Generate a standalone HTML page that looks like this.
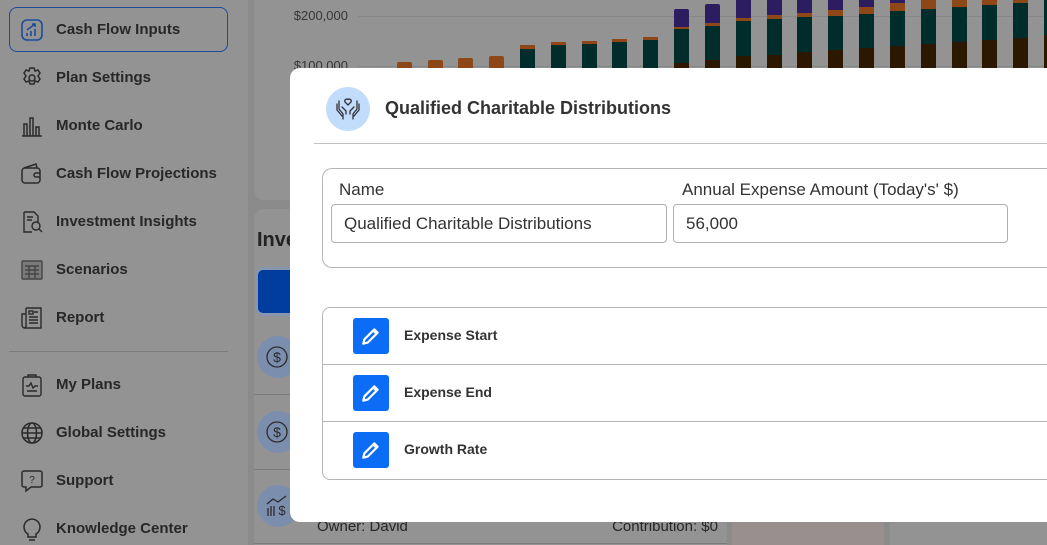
<!DOCTYPE html>
<html><head><meta charset="utf-8"><style>
*{margin:0;padding:0;box-sizing:border-box}
html,body{width:1047px;height:545px;overflow:hidden}
body{position:relative;background:#8b8b8b;font-family:"Liberation Sans",sans-serif;color:#272727}
.a{position:absolute}
.sb{left:0;top:0;width:248px;height:545px;background:#939393}
.item{position:absolute;left:56px;height:24px;line-height:24px;font-size:15px;font-weight:bold;color:#272727;white-space:nowrap}
.ic{position:absolute;left:20px;width:24px;height:24px}
.bar{position:absolute;width:15px}
.o{background:#8e4817}.g{background:#002c2b}.b{background:#2c1700}.p{background:#2b1d5f}
.lbl{font-size:17px;color:#333;white-space:nowrap}
.inp{position:absolute;border:1px solid #b0b0b0;border-radius:4px;height:39px;line-height:37px;font-size:17px;color:#333;background:#fff;white-space:nowrap;overflow:hidden}
.btn{position:absolute;left:353px;width:36px;height:36px;background:#0b6cf6;border-radius:3px}
.rl{position:absolute;left:404px;height:20px;line-height:20px;font-size:14px;font-weight:bold;color:#333}
.circ{position:absolute;left:257px;width:42px;height:42px;border-radius:50%;background:#7c8eae}
</style></head><body>

<!-- sidebar -->
<div class="a sb"></div>
<div class="a" style="left:9px;top:7px;width:219px;height:45px;border:1px solid #1d4b9c;border-radius:8px"></div>
<svg class="ic" style="top:18px" viewBox="0 0 24 24" fill="none" stroke="#1d4b9c" stroke-width="1.6"><rect x="2" y="2" width="20" height="20" rx="5"/><path d="M7 18v-3M11 18v-5M15 18v-7M7 12l8-6M12 6h3v3"/></svg>
<div class="item" style="top:18px">Cash Flow Inputs</div>

<svg class="ic" style="top:66px" viewBox="0 0 24 24" fill="none" stroke="#2a2a2a" stroke-width="1.5"><circle cx="12" cy="12" r="3"/><path d="M10 2h4l1 3 3-1 2 3-2 3 2 3-2 3-3-1-1 3h-4l-1-3-3 1-2-3 2-3-2-3 2-3 3 1z"/></svg>
<div class="item" style="top:66px">Plan Settings</div>

<svg class="ic" style="top:114px" viewBox="0 0 24 24" fill="none" stroke="#2a2a2a" stroke-width="1.5"><path d="M2 22h20M4 22V10h3v12M10 22V4h3v18M16 22v-9h3v9"/></svg>
<div class="item" style="top:114px">Monte Carlo</div>

<svg class="ic" style="top:162px" viewBox="0 0 24 24" fill="none" stroke="#2a2a2a" stroke-width="1.5"><rect x="2" y="6" width="18" height="15" rx="3"/><path d="M4 6l12-4 1 4M20 11h-4a2 2 0 000 4h4"/></svg>
<div class="item" style="top:162px">Cash Flow Projections</div>

<svg class="ic" style="top:210px" viewBox="0 0 24 24" fill="none" stroke="#2a2a2a" stroke-width="1.4"><path d="M4 2h10l4 4v6M4 2v20h8"/><circle cx="16" cy="16" r="4"/><path d="M19 19l3 3M7 7h6M7 10h5"/></svg>
<div class="item" style="top:210px">Investment Insights</div>

<svg class="ic" style="top:258px" viewBox="0 0 24 24" fill="none" stroke="#444" stroke-width="1.4"><rect x="2" y="3" width="20" height="18" rx="1" fill="#7a7a7a"/><path d="M5 8h14M5 12h14M5 16h14M9 8v12M15 8v12"/></svg>
<div class="item" style="top:258px">Scenarios</div>

<svg class="ic" style="top:306px" viewBox="0 0 24 24" fill="none" stroke="#2a2a2a" stroke-width="1.4"><path d="M6 2h15v20H5a3 3 0 01-3-3V8h4"/><path d="M6 2v17a3 3 0 01-1 3"/><rect x="9" y="5" width="4" height="3"/><path d="M14 6h4M9 11h9M9 14h9M9 17h9"/></svg>
<div class="item" style="top:306px">Report</div>

<div class="a" style="left:9px;top:351px;width:219px;height:1px;background:#7c7c7c"></div>

<svg class="ic" style="top:373px" viewBox="0 0 24 24" fill="none" stroke="#2a2a2a" stroke-width="1.4"><rect x="3" y="4" width="18" height="19" rx="2"/><path d="M8 4V2h8v2M6 13h3l2-3 2 5 2-2h3M7 18h10"/></svg>
<div class="item" style="top:373px">My Plans</div>

<svg class="ic" style="top:421px" viewBox="0 0 24 24" fill="none" stroke="#2a2a2a" stroke-width="1.5"><circle cx="12" cy="12" r="10"/><ellipse cx="12" cy="12" rx="4.5" ry="10"/><path d="M2 12h20M3.5 7h17M3.5 17h17"/></svg>
<div class="item" style="top:421px">Global Settings</div>

<svg class="ic" style="top:469px" viewBox="0 0 24 24" fill="none" stroke="#2a2a2a" stroke-width="1.5"><path d="M4 2h16a2 2 0 012 2v12a2 2 0 01-2 2H11l-5 4v-4H4a2 2 0 01-2-2V4a2 2 0 012-2z"/><text x="12" y="14" font-size="10" font-family="Liberation Sans" fill="#2a2a2a" stroke="none" text-anchor="middle">?</text></svg>
<div class="item" style="top:469px">Support</div>

<svg class="ic" style="top:517px" viewBox="0 0 24 24" fill="none" stroke="#2a2a2a" stroke-width="1.5"><path d="M8 17a8 8 0 118 0v3H8z M9 23h6"/></svg>
<div class="item" style="top:517px">Knowledge Center</div>

<!-- chart card -->
<div class="a" style="left:254px;top:0;width:793px;height:200px;background:#939393;border-radius:0 0 0 10px"></div>
<div class="a" style="left:358px;top:16px;width:689px;height:1px;background:#878787"></div>
<div class="a" style="left:358px;top:66px;width:689px;height:1px;background:#878787"></div>
<div class="a" style="left:270px;top:8px;width:78px;text-align:right;font-size:13px;line-height:16px;color:#363636">$200,000</div>
<div class="a" style="left:270px;top:58px;width:78px;text-align:right;font-size:13px;line-height:16px;color:#363636">$100,000</div>

<!-- bars -->
<div class="bar o" style="left:397px;top:62px;height:10px;border-radius:2px 2px 0 0"></div>
<div class="bar o" style="left:428px;top:60px;height:12px;border-radius:2px 2px 0 0"></div>
<div class="bar o" style="left:458px;top:58px;height:14px;border-radius:2px 2px 0 0"></div>
<div class="bar o" style="left:489px;top:56px;height:16px;border-radius:2px 2px 0 0"></div>

<div class="bar o" style="left:520px;top:45px;height:4px"></div><div class="bar g" style="left:520px;top:49px;height:23px"></div>
<div class="bar o" style="left:551px;top:42px;height:3px"></div><div class="bar g" style="left:551px;top:45px;height:27px"></div>
<div class="bar o" style="left:582px;top:41px;height:3px"></div><div class="bar g" style="left:582px;top:44px;height:28px"></div>
<div class="bar o" style="left:612px;top:39px;height:3px"></div><div class="bar g" style="left:612px;top:42px;height:30px"></div>
<div class="bar o" style="left:643px;top:37px;height:3px"></div><div class="bar g" style="left:643px;top:40px;height:32px"></div>

<div class="bar p" style="left:674px;top:9px;height:18px;border-radius:2px 2px 0 0"></div><div class="bar o" style="left:674px;top:27px;height:2px"></div><div class="bar g" style="left:674px;top:29px;height:34px"></div><div class="bar b" style="left:674px;top:63px;height:9px"></div>
<div class="bar p" style="left:705px;top:4px;height:19px;border-radius:2px 2px 0 0"></div><div class="bar o" style="left:705px;top:23px;height:3px"></div><div class="bar g" style="left:705px;top:26px;height:34px"></div><div class="bar b" style="left:705px;top:60px;height:12px"></div>
<div class="bar p" style="left:736px;top:0px;height:18px"></div><div class="bar o" style="left:736px;top:18px;height:3px"></div><div class="bar g" style="left:736px;top:21px;height:35px"></div><div class="bar b" style="left:736px;top:56px;height:16px"></div>
<div class="bar p" style="left:767px;top:0px;height:15px"></div><div class="bar o" style="left:767px;top:15px;height:4px"></div><div class="bar g" style="left:767px;top:19px;height:36px"></div><div class="bar b" style="left:767px;top:55px;height:17px"></div>
<div class="bar p" style="left:797px;top:0px;height:13px"></div><div class="bar o" style="left:797px;top:13px;height:4px"></div><div class="bar g" style="left:797px;top:17px;height:35px"></div><div class="bar b" style="left:797px;top:52px;height:20px"></div>
<div class="bar p" style="left:828px;top:0px;height:10px"></div><div class="bar o" style="left:828px;top:10px;height:6px"></div><div class="bar g" style="left:828px;top:16px;height:34px"></div><div class="bar b" style="left:828px;top:50px;height:22px"></div>
<div class="bar p" style="left:859px;top:0px;height:7px"></div><div class="bar o" style="left:859px;top:7px;height:7px"></div><div class="bar g" style="left:859px;top:14px;height:34px"></div><div class="bar b" style="left:859px;top:48px;height:24px"></div>
<div class="bar p" style="left:890px;top:0px;height:3px"></div><div class="bar o" style="left:890px;top:3px;height:8px"></div><div class="bar g" style="left:890px;top:11px;height:35px"></div><div class="bar b" style="left:890px;top:46px;height:26px"></div>
<div class="bar o" style="left:921px;top:0px;height:9px"></div><div class="bar g" style="left:921px;top:9px;height:35px"></div><div class="bar b" style="left:921px;top:44px;height:28px"></div>
<div class="bar o" style="left:952px;top:0px;height:7px"></div><div class="bar g" style="left:952px;top:7px;height:35px"></div><div class="bar b" style="left:952px;top:42px;height:30px"></div>
<div class="bar o" style="left:982px;top:0px;height:5px"></div><div class="bar g" style="left:982px;top:5px;height:35px"></div><div class="bar b" style="left:982px;top:40px;height:32px"></div>
<div class="bar o" style="left:1013px;top:0px;height:3px"></div><div class="bar g" style="left:1013px;top:3px;height:35px"></div><div class="bar b" style="left:1013px;top:38px;height:34px"></div>
<div class="bar g" style="left:1044px;top:0px;height:35px;width:3px"></div><div class="bar b" style="left:1044px;top:35px;height:37px;width:3px"></div>

<!-- second row cards -->
<div class="a" style="left:254px;top:209px;width:473px;height:336px;background:#939393;border-radius:10px 10px 0 0"></div>
<div class="a" style="left:732px;top:209px;width:152px;height:336px;background:#9a8f8f;border-radius:10px 10px 0 0"></div>
<div class="a" style="left:890px;top:209px;width:157px;height:336px;background:#939393;border-radius:10px 0 0 0"></div>
<div class="a" style="left:257px;top:228px;font-size:20px;font-weight:bold;line-height:24px;color:#222">Inve</div>
<div class="a" style="left:258px;top:270px;width:40px;height:43px;background:#003d9e;border-radius:5px 0 0 5px;box-shadow:0 0 0 3px #8796b0"></div>
<div class="a" style="left:254px;top:394px;width:473px;height:1px;background:#7a7a7a"></div>
<div class="a" style="left:254px;top:469px;width:473px;height:1px;background:#7a7a7a"></div>
<div class="a" style="left:254px;top:543px;width:473px;height:1px;background:#7a7a7a"></div>
<div class="circ" style="top:336px"></div>
<div class="circ" style="top:411px"></div>
<div class="circ" style="top:485px"></div>
<svg class="a" style="left:265px;top:345px" width="24" height="24" viewBox="0 0 24 24" fill="none" stroke="#2a2a2a" stroke-width="1.3"><circle cx="12" cy="12" r="10"/><text x="12" y="17" font-size="14" font-family="Liberation Sans" fill="#2a2a2a" stroke="none" text-anchor="middle">$</text></svg>
<svg class="a" style="left:265px;top:420px" width="24" height="24" viewBox="0 0 24 24" fill="none" stroke="#2a2a2a" stroke-width="1.3"><circle cx="12" cy="12" r="10"/><text x="12" y="17" font-size="14" font-family="Liberation Sans" fill="#2a2a2a" stroke="none" text-anchor="middle">$</text></svg>
<svg class="a" style="left:265px;top:494px" width="26" height="24" viewBox="0 0 26 24" fill="none" stroke="#2a2a2a" stroke-width="1.3"><path d="M2 10l6-5 5 3 8-6M3 14v8M6 12v10M9 12v10"/><text x="17" y="21" font-size="13" font-family="Liberation Sans" fill="#2a2a2a" stroke="none" text-anchor="middle">$</text></svg>
<div class="a" style="left:317px;top:518px;font-size:15px;line-height:18px;color:#262626">Owner: David</div>
<div class="a" style="left:560px;top:518px;width:158px;text-align:right;font-size:15px;line-height:18px;color:#262626">Contribution: $0</div>

<!-- modal -->
<div class="a" style="left:290px;top:68px;width:757px;height:454px;background:#fff;border-radius:10px 0 0 10px"></div>
<div class="a" style="left:326px;top:87px;width:44px;height:44px;border-radius:50%;background:#c2dcfb"></div>
<svg class="a" style="left:334px;top:95px" width="28" height="28" viewBox="0 0 28 28" fill="none" stroke="#333" stroke-width="1.3" stroke-linecap="round" stroke-linejoin="round"><path d="M14 10l-3-3a2 2 0 013-2.5 2 2 0 013 2.5z"/><path d="M5 6v8l4 5v5M3 9v6l5 6M23 6v8l-4 5v5M25 9v6l-5 6M8 12l4 4v3M20 12l-4 4v3"/></svg>
<div class="a" style="left:385px;top:97px;font-size:18px;font-weight:bold;line-height:22px;color:#333;white-space:nowrap">Qualified Charitable Distributions</div>
<div class="a" style="left:314px;top:143px;width:733px;height:1px;background:#c2c2c2"></div>

<div class="a" style="left:322px;top:168px;width:740px;height:100px;border:1px solid #b5b5b5;border-radius:10px 0 0 10px;border-right:none"></div>
<div class="a lbl" style="left:339px;top:180px;line-height:20px">Name</div>
<div class="inp" style="left:331px;top:204px;width:336px;padding-left:12px">Qualified Charitable Distributions</div>
<div class="a lbl" style="left:682px;top:180px;line-height:20px">Annual Expense Amount (Today's' $)</div>
<div class="inp" style="left:673px;top:204px;width:335px;padding-left:12px">56,000</div>

<div class="a" style="left:322px;top:307px;width:725px;height:173px;border:1px solid #b5b5b5;border-right:none;border-radius:8px 0 0 8px"></div>
<div class="a" style="left:323px;top:364px;width:724px;height:1px;background:#b5b5b5"></div>
<div class="a" style="left:323px;top:421px;width:724px;height:1px;background:#b5b5b5"></div>

<div class="btn" style="top:318px"></div>
<div class="btn" style="top:375px"></div>
<div class="btn" style="top:432px"></div>
<svg class="a" style="left:360px;top:325px" width="22" height="22" viewBox="0 0 20 20" fill="none" stroke="#fff" stroke-width="2" stroke-linejoin="round"><path d="M3 17l1-4 9-9 3 3-9 9z M12 5l3 3"/></svg>
<svg class="a" style="left:360px;top:382px" width="22" height="22" viewBox="0 0 20 20" fill="none" stroke="#fff" stroke-width="2" stroke-linejoin="round"><path d="M3 17l1-4 9-9 3 3-9 9z M12 5l3 3"/></svg>
<svg class="a" style="left:360px;top:439px" width="22" height="22" viewBox="0 0 20 20" fill="none" stroke="#fff" stroke-width="2" stroke-linejoin="round"><path d="M3 17l1-4 9-9 3 3-9 9z M12 5l3 3"/></svg>
<div class="rl" style="top:325px">Expense Start</div>
<div class="rl" style="top:382px">Expense End</div>
<div class="rl" style="top:439px">Growth Rate</div>

</body></html>
